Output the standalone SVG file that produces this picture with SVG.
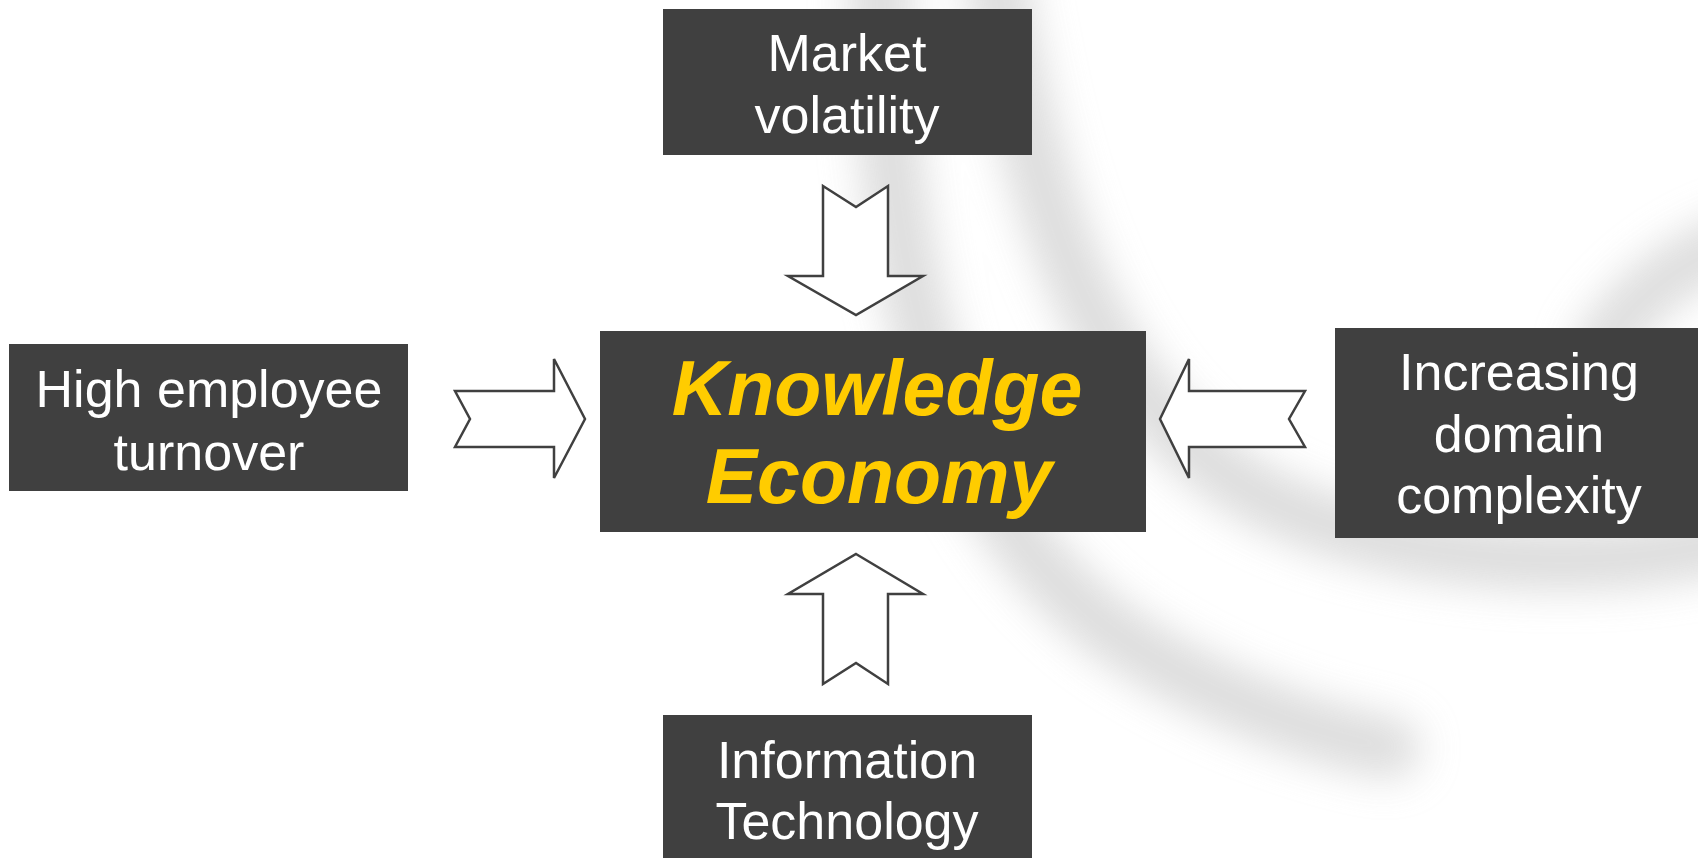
<svg xmlns="http://www.w3.org/2000/svg" width="1698" height="858" viewBox="0 0 1698 858">
<defs>
<style>
.box{fill:#404040}
.lbl{font-family:"Liberation Sans",Arial,sans-serif;font-size:52px;fill:#ffffff;text-anchor:middle}
.key{font-family:"Liberation Sans",Arial,sans-serif;font-size:77px;font-weight:bold;font-style:italic;fill:#ffcc00;text-anchor:middle}
.arrow{fill:#ffffff;stroke:#404040;stroke-width:2.5;stroke-linejoin:miter}
.swoosh{fill:none;stroke:#d6d6d6;stroke-linecap:round}
</style>
<filter id="blur" x="-30%" y="-30%" width="160%" height="160%">
<feGaussianBlur stdDeviation="20"/>
</filter>
</defs>
<rect width="1698" height="858" fill="#ffffff"/>
<g id="background" filter="url(#blur)" opacity="0.85">
<path class="swoosh" stroke-width="60" d="M880,-30 C885,280 940,500 1110,630 C1210,700 1320,735 1390,748"/>
<path class="swoosh" stroke-width="60" d="M995,-30 C1035,220 1100,400 1250,490 C1380,565 1600,575 1730,540"/>
<path class="swoosh" stroke-width="55" d="M1740,240 C1680,260 1630,300 1600,350"/>
</g>
<g id="connectors">
<polygon class="arrow" points="823,186 856,207 888,186 888,276 923,276 856,315 788,276 823,276"/>
<polygon class="arrow" points="856,554 923,594 888,594 888,684 856,663 823,684 823,594 788,594"/>
<polygon class="arrow" points="455,391 554,391 554,359 585,419 554,478 554,447 455,447 470,419"/>
<polygon class="arrow" points="1305,391 1189,391 1189,359 1160,419 1189,478 1189,447 1305,447 1289,419"/>
</g>
<g id="node-market">
<rect class="box" x="663" y="9" width="369" height="146"/>
<text class="lbl" x="847" y="71">Market</text>
<text class="lbl" x="847" y="133">volatility</text>
</g>
<g id="node-turnover">
<rect class="box" x="9" y="344" width="399" height="147"/>
<text class="lbl" x="209" y="407">High employee</text>
<text class="lbl" x="209" y="470">turnover</text>
</g>
<g id="node-knowledge">
<rect class="box" x="600" y="331" width="546" height="201"/>
<text class="key" x="877" y="415">Knowledge</text>
<text class="key" x="879" y="503">Economy</text>
</g>
<g id="node-complexity">
<rect class="box" x="1335" y="328" width="380" height="210"/>
<text class="lbl" x="1519" y="390">Increasing</text>
<text class="lbl" x="1519" y="452">domain</text>
<text class="lbl" x="1519" y="513">complexity</text>
</g>
<g id="node-it">
<rect class="box" x="663" y="715" width="369" height="150"/>
<text class="lbl" x="847" y="778">Information</text>
<text class="lbl" x="847" y="839">Technology</text>
</g>
</svg>
